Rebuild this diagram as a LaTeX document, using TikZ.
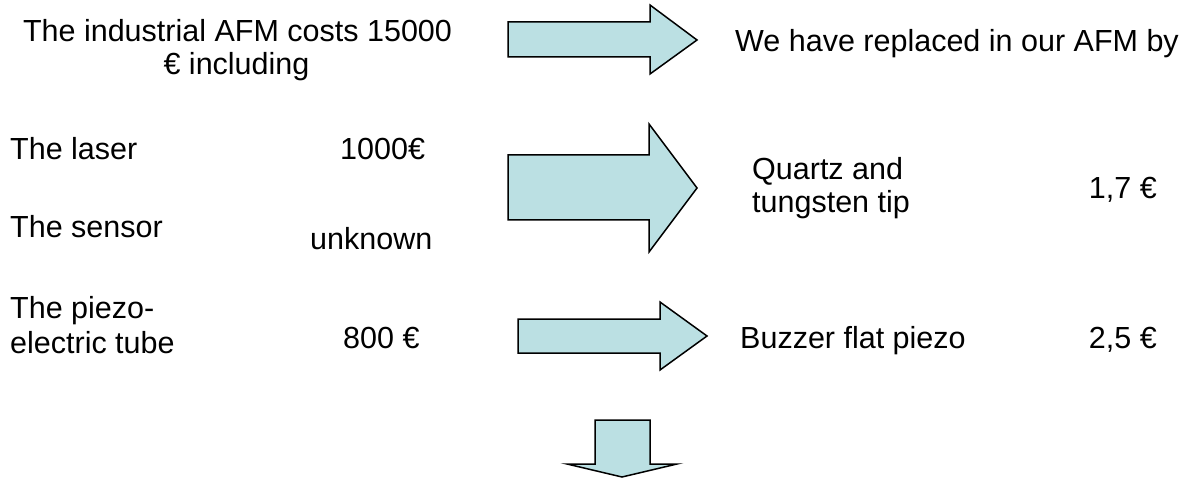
\documentclass[tikz,border=0pt]{standalone}
\usepackage{fontspec}
\setmainfont{Liberation Sans}
\definecolor{arrowfill}{HTML}{BBE0E3}
\tikzset{
  blockarrow/.style={draw=black, line width=1.5pt, fill=arrowfill, line join=miter},
  txt/.style={inner sep=0pt, font=\fontsize{30.5}{36}\selectfont},
}
\begin{document}
\begin{tikzpicture}[x=1pt,y=-1pt]
\useasboundingbox (0,0) rectangle (1191,478);
% block arrows
\draw[blockarrow] (508,22) -- (650,22) -- (650,5) -- (697,40) -- (650,74) -- (650,57) -- (508,57) -- cycle;
\draw[blockarrow] (508,155) -- (649,155) -- (649,124) -- (697,188) -- (649,252) -- (649,220) -- (508,220) -- cycle;
\draw[blockarrow] (518,319) -- (660,319) -- (660,302) -- (707,336) -- (660,370) -- (660,353) -- (518,353) -- cycle;
\draw[blockarrow] (595,420) -- (650,420) -- (650,464) -- (677,464) -- (622,477) -- (567,464) -- (595,464) -- cycle;
% title
\node[txt, anchor=base] (t1) at (237.5,42) {The industrial AFM costs 15000};
\node[txt, anchor=base] (t2) at (236.5,75) {€ including};
% left column
\node[txt, anchor=base west] (laser) at (10,160) {The laser};
\node[txt, anchor=base west] (sensor) at (10,238) {The sensor};
\node[txt, anchor=base west] (piezoA) at (10,318) {The piezo-};
\node[txt, anchor=base west] (piezoB) at (10,353) {electric tube};
\node[txt, anchor=base west] (plaser) at (340,160) {1000€};
\node[txt, anchor=base west] (psensor) at (310,250) {unknown};
\node[txt, anchor=base west] (ppiezo) at (343,348) {800 €};
% right column
\node[txt, anchor=base west] (r1) at (735,52) {We have replaced in our AFM by};
\node[txt, anchor=base west] (qA) at (752,180) {Quartz and};
\node[txt, anchor=base west] (qB) at (752,213) {tungsten tip};
\node[txt, anchor=base east] (pq) at (1157,199) {1,7 €};
\node[txt, anchor=base west] (buz) at (740,348) {Buzzer flat piezo};
\node[txt, anchor=base east] (pbuz) at (1157,348) {2,5 €};
\end{tikzpicture}
\end{document}
